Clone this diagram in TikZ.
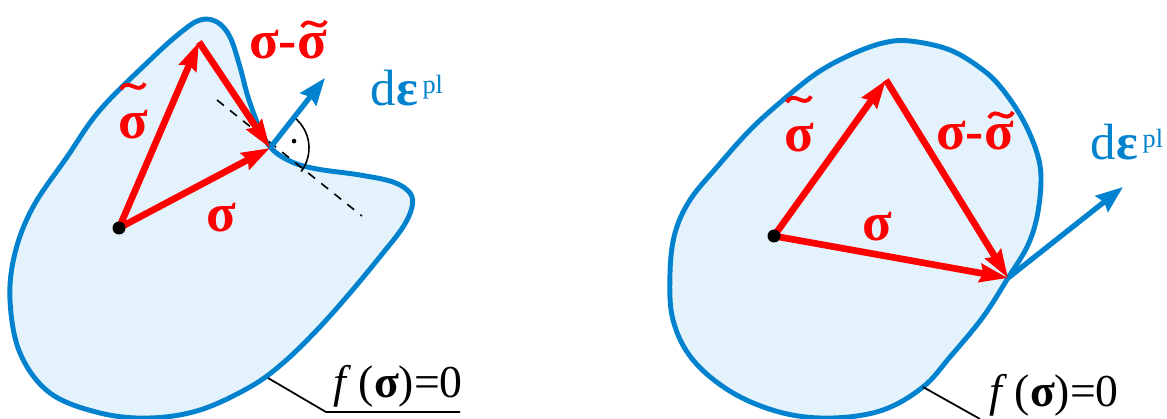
\documentclass[tikz,border=0pt]{standalone}
\usepackage{fontspec}
\setmainfont{Liberation Serif}
\usetikzlibrary{arrows.meta}
\definecolor{surfblue}{RGB}{0,130,206}
\definecolor{surffill}{RGB}{228,242,251}
\newcommand{\depl}{d{\bfseries ε}\raisebox{7pt}{\fontsize{15}{15}\selectfont\,pl}}
\tikzset{
  vec/.style={red, line width=3.8pt, -{Stealth[length=0.56cm, width=0.36cm, inset=0.06cm]}},
  flow/.style={surfblue, line width=3pt, -{Stealth[length=0.54cm, width=0.4cm, inset=0.06cm]}},
  surf/.style={surfblue, line width=2.8pt, fill=surffill},
  veclbl/.style={red, font=\fontsize{31}{31}\selectfont\bfseries, inner sep=0pt},
  epslbl/.style={surfblue, font=\fontsize{29}{29}\selectfont, inner sep=0pt},
  flbl/.style={font=\fontsize{26}{26}\selectfont, inner sep=0pt},
  leader/.style={black, line width=1pt},
  % tilde drawn over a sigma
  tilde/.pic={\draw[red, line width=2.2pt] (-12,-3) .. controls (-5,10) and (5,-10) .. (12,3);},
}
\begin{document}
\begin{tikzpicture}[x=0.02cm, y=0.02cm]
  \useasboundingbox (0,0) rectangle (1167,419);

  % left: non-convex yield surface
  \draw[surf] plot[smooth cycle, tension=0.6] coordinates {
    (200,399) (217,397) (230,382) (240,352) (248,322) (260,290) (272,270)
    (292,257) (317,250) (360,244) (393,237) (410,226) (412,212) (403,192)
    (383,166) (350,126) (317,89) (283,56) (250,32) (200,9) (150,1) (100,6)
    (50,26) (20,66) (10,119) (15,166) (33,212) (67,262) (100,309)
    (150,359) (180,386)};
  \coordinate (O1) at (119,191);
  \coordinate (T1) at (199,377);
  \coordinate (P1) at (270,271);
  \coordinate (E1) at (325,341);
  \coordinate (D1a) at (217,319);
  \coordinate (D1b) at (362,203);
  \draw[black, line width=0.9pt, dash pattern=on 5pt off 4.5pt] (D1a) -- (D1b);
  \draw[black, line width=0.9pt] (P1) ++(52:39) arc[start angle=52, end angle=-37, radius=39];
  \fill (P1) ++(16:25) circle[radius=2.3];
  \draw[flow] (P1) -- (E1);
  \draw[vec] (O1) -- (T1);
  \draw[vec] (T1) -- (P1);
  \draw[vec] (O1) -- (P1);
  \fill (O1) circle[radius=6.5];
  \node[veclbl] (st1) at (133,294) {σ};
  \pic at ([yshift=22]st1.center) {tilde};
  \node[veclbl, anchor=base] (sd1) at (288,360) {σ-σ};
  \pic at ([shift={(-13,35)}]sd1.base east) {tilde};
  \node[veclbl] (s1) at (221,201) {σ};
  \node[epslbl] (de1) at (407,331) {\depl};
  \node[flbl] (f1) at (398,33) {\textit{f}\,(\textbf{σ})=0};
  \coordinate (L1a) at (268,41);
  \coordinate (L1b) at (326,7);
  \coordinate (L1c) at (460,7);
  \draw[leader] (L1a) -- (L1b) -- (L1c);

  % right: convex yield surface
  \draw[surf] plot[smooth cycle, tension=0.6] coordinates {
    (670,146) (673,99) (693,59) (733,26) (783,6) (833,1) (883,9) (923,32)
    (950,62) (983,102) (1008,141) (1027,172) (1037,202) (1041,239)
    (1037,266) (1023,299) (1003,329) (983,349) (950,369) (910,378)
    (883,376) (850,364) (817,346) (783,319) (750,289) (717,252) (690,219)
    (675,186)};
  \coordinate (O2) at (774,183);
  \coordinate (T2) at (886,339);
  \coordinate (P2) at (1008,141);
  \coordinate (E2) at (1123,232);
  \draw[flow] (P2) -- (E2);
  \draw[vec] (O2) -- (T2);
  \draw[vec] (T2) -- (P2);
  \draw[vec] (O2) -- (P2);
  \fill (O2) circle[radius=6.5];
  \node[veclbl] (st2) at (799,281) {σ};
  \pic at ([yshift=22]st2.center) {tilde};
  \node[veclbl, anchor=base] (sd2) at (975,269) {σ-σ};
  \pic at ([shift={(-13,35)}]sd2.base east) {tilde};
  \node[veclbl] (s2) at (877,192) {σ};
  \node[epslbl] (de2) at (1127,277) {\depl};
  \node[flbl] (f2) at (1054,24) {\textit{f}\,(\textbf{σ})=0};
  \coordinate (L2a) at (923,32);
  \coordinate (L2b) at (980,0);
  \draw[leader] (L2a) -- (L2b);
\end{tikzpicture}
\end{document}
